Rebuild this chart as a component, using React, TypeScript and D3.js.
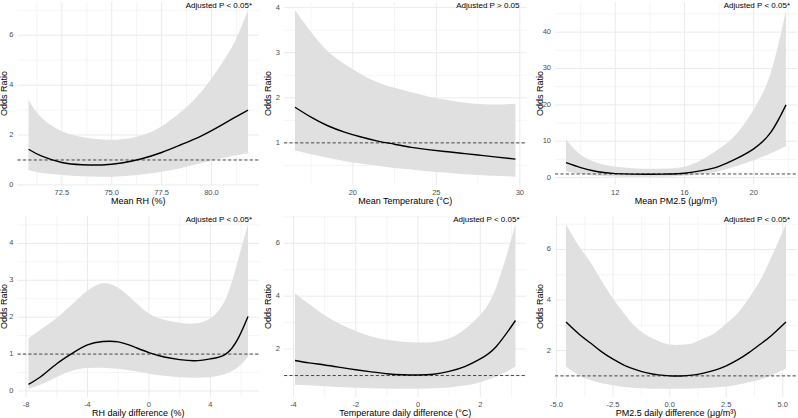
import * as d3 from 'd3'

const W = 798
const H = 418

// Mean RH (%)
const rhX = [70.83, 71.5, 72.5, 73.5, 74.5, 75.5, 76.5, 77.5, 78.5, 79.5, 80.5, 81.2, 81.83]
const rhOR = [1.43, 1.15, 0.9, 0.81, 0.8, 0.88, 1.05, 1.3, 1.62, 1.97, 2.4, 2.72, 3.0]
const rhLo = [0.6, 0.48, 0.4, 0.35, 0.33, 0.35, 0.42, 0.53, 0.68, 0.88, 1.07, 1.18, 1.27]
const rhHi = [3.4, 2.68, 2.15, 1.92, 1.82, 1.83, 1.98, 2.35, 2.95, 3.75, 4.85, 5.8, 7.0]

// Mean temperature (°C)
const tempX = [16.54, 17.5, 18.5, 19.5, 20.5, 21.5, 22.5, 23.5, 24.5, 25.5, 26.5, 27.5, 28.5, 29.74]
const tempOR = [1.79, 1.57, 1.38, 1.24, 1.13, 1.04, 0.97, 0.9, 0.85, 0.81, 0.77, 0.73, 0.69, 0.64]
const tempLo = [0.83, 0.75, 0.67, 0.6, 0.54, 0.49, 0.44, 0.41, 0.37, 0.34, 0.31, 0.29, 0.27, 0.25]
const tempHi = [3.94, 3.46, 3.03, 2.75, 2.52, 2.34, 2.22, 2.12, 2.03, 1.96, 1.9, 1.86, 1.85, 1.87]

// Mean PM2.5 (µg/m³)
const pmX = [9.15, 10, 11, 12, 13, 14, 15, 16, 17, 18, 19, 20, 21, 21.87]
const pmOR = [4.1, 2.75, 1.6, 1.1, 0.95, 0.92, 0.98, 1.2, 1.9, 3.1, 5.2, 7.9, 12.5, 20]
const pmLo = [1.65, 1.0, 0.5, 0.3, 0.25, 0.25, 0.3, 0.5, 0.9, 1.8, 3.2, 4.8, 6.7, 8.7]
const pmHi = [10.5, 6.3, 4.0, 3.0, 2.6, 2.4, 2.5, 3.0, 4.9, 7.9, 12.0, 18.7, 29, 46]

// RH daily difference (%)
const rhdX = [-7.84, -7, -6, -5, -4, -3, -2, -1, 0, 1, 2, 3, 4, 5, 5.8, 6.45]
const rhdOR = [0.18, 0.4, 0.74, 1.02, 1.25, 1.34, 1.33, 1.2, 1.04, 0.92, 0.85, 0.82, 0.87, 1.0, 1.42, 2.02]
const rhdLo = [0.06, 0.18, 0.38, 0.55, 0.62, 0.63, 0.6, 0.54, 0.47, 0.41, 0.37, 0.36, 0.38, 0.47, 0.65, 0.93]
const rhdHi = [1.43, 1.68, 1.98, 2.35, 2.72, 2.92, 2.8, 2.45, 2.1, 1.93, 1.85, 1.83, 1.97, 2.5, 3.55, 4.52]

// Temperature daily difference (°C)
const tdX = [-3.95, -3.5, -3, -2.5, -2, -1.5, -1, -0.5, 0, 0.5, 1, 1.5, 2, 2.5, 3.13]
const tdOR = [1.57, 1.48, 1.4, 1.31, 1.22, 1.14, 1.07, 1.03, 1.02, 1.05, 1.16, 1.34, 1.63, 2.08, 3.08]
const tdLo = [0.65, 0.63, 0.6, 0.57, 0.54, 0.52, 0.51, 0.5, 0.5, 0.52, 0.55, 0.62, 0.75, 0.95, 1.33]
const tdHi = [4.1, 3.7, 3.28, 2.95, 2.68, 2.48, 2.35, 2.28, 2.25, 2.27, 2.4, 2.75, 3.3, 4.3, 6.72]

// PM2.5 daily difference (µg/m³)
const pdX = [-4.58, -4, -3.5, -3, -2.5, -2, -1.5, -1, -0.5, 0, 0.5, 1, 1.5, 2, 2.5, 3, 3.5, 4, 4.5, 5.14]
const pdOR = [3.13, 2.65, 2.3, 1.95, 1.66, 1.42, 1.25, 1.12, 1.04, 1.0, 0.995, 1.03, 1.11, 1.23, 1.4, 1.63, 1.92, 2.25, 2.6, 3.13]
const pdLo = [1.36, 1.02, 0.84, 0.71, 0.63, 0.56, 0.52, 0.5, 0.49, 0.49, 0.49, 0.5, 0.52, 0.54, 0.58, 0.65, 0.75, 0.86, 1.02, 1.29]
const pdHi = [7.0, 6.12, 5.5, 4.75, 4.05, 3.45, 2.93, 2.6, 2.38, 2.24, 2.23, 2.29, 2.48, 2.7, 3.07, 3.48, 4.07, 4.78, 5.71, 7.0]

// plot-area extents for the 3 x 2 grid
const colX = [[17.5, 259], [284, 526.5], [555, 797]]
const rowY = [[2, 185], [216, 397]]
const yTitleX = [4.5, 268.5, 540.5]

const FONT = '"Liberation Sans", Arial, Helvetica, sans-serif'
const GRID = '#EBEBEB'
const RIBBON = '#E0E0E0'

interface Panel {
  xTitle: string
  note: string
  x: number[]
  or: number[]
  lo: number[]
  hi: number[]
  xTicks: number[]
  yTicks: number[]
  xFmt: (v: number) => string
  col: number
  row: number
}

const int = (v: number) => String(v)
const one = (v: number) => v.toFixed(1)

const panels: Panel[] = [
  { xTitle: 'Mean RH (%)', note: 'Adjusted P < 0.05*', x: rhX, or: rhOR, lo: rhLo, hi: rhHi,
    xTicks: [72.5, 75, 77.5, 80], yTicks: [0, 2, 4, 6], xFmt: one, col: 0, row: 0 },
  { xTitle: 'Mean Temperature (°C)', note: 'Adjusted P > 0.05', x: tempX, or: tempOR, lo: tempLo, hi: tempHi,
    xTicks: [20, 25, 30], yTicks: [1, 2, 3, 4], xFmt: int, col: 1, row: 0 },
  { xTitle: 'Mean PM2.5 (μg/m³)', note: 'Adjusted P < 0.05*', x: pmX, or: pmOR, lo: pmLo, hi: pmHi,
    xTicks: [12, 16, 20], yTicks: [0, 10, 20, 30, 40], xFmt: int, col: 2, row: 0 },
  { xTitle: 'RH daily difference (%)', note: 'Adjusted P < 0.05*', x: rhdX, or: rhdOR, lo: rhdLo, hi: rhdHi,
    xTicks: [-8, -4, 0, 4], yTicks: [0, 1, 2, 3, 4], xFmt: int, col: 0, row: 1 },
  { xTitle: 'Temperature daily difference (°C)', note: 'Adjusted P < 0.05*', x: tdX, or: tdOR, lo: tdLo, hi: tdHi,
    xTicks: [-4, -2, 0, 2], yTicks: [2, 4, 6], xFmt: int, col: 1, row: 1 },
  { xTitle: 'PM2.5 daily difference (μg/m³)', note: 'Adjusted P < 0.05*', x: pdX, or: pdOR, lo: pdLo, hi: pdHi,
    xTicks: [-5, -2.5, 0, 2.5, 5], yTicks: [2, 4, 6], xFmt: one, col: 2, row: 1 },
]

// ggplot-style 5% padding on a continuous scale
function expand(lo: number, hi: number): [number, number] {
  const pad = (hi - lo) * 0.05
  return [lo - pad, hi + pad]
}

// minor breaks sit halfway between majors, extended one step past each end
function minorBreaks(major: number[], dom: [number, number]) {
  const step = major[1] - major[0]
  const out: number[] = []
  for (let i = -1; i < major.length; i++) {
    const v = major[0] + step * (i + 0.5)
    if (v >= dom[0] && v <= dom[1]) out.push(v)
  }
  return out
}

function PanelView({ p }: { p: Panel }) {
  const [x0, x1] = colX[p.col]
  const [y0, y1] = rowY[p.row]
  const xDom = expand(d3.min(p.x)!, d3.max(p.x)!)
  const yDom = expand(Math.min(d3.min(p.lo)!, 1), Math.max(d3.max(p.hi)!, 1))
  const x = d3.scaleLinear().domain(xDom).range([x0, x1])
  const y = d3.scaleLinear().domain(yDom).range([y1, y0])

  const rows = p.x.map((v, i) => ({ x: v, or: p.or[i], lo: p.lo[i], hi: p.hi[i] }))
  type Row = (typeof rows)[number]
  const area = d3.area<Row>().x(d => x(d.x)).y0(d => y(d.lo)).y1(d => y(d.hi)).curve(d3.curveNatural)
  const line = d3.line<Row>().x(d => x(d.x)).y(d => y(d.or)).curve(d3.curveNatural)

  const eps = 1e-9
  const xMajor = p.xTicks.filter(t => t >= xDom[0] - eps && t <= xDom[1] + eps)
  const yMajor = p.yTicks.filter(t => t >= yDom[0] - 0.02 && t <= yDom[1] + eps)
  const xMinor = minorBreaks(p.xTicks, xDom)
  const yMinor = minorBreaks(p.yTicks, yDom)

  return (
    <g>
      {xMinor.map(t => (
        <line key={'xm' + t} x1={x(t)} x2={x(t)} y1={y0} y2={y1} stroke={GRID} strokeWidth={0.5} />
      ))}
      {yMinor.map(t => (
        <line key={'ym' + t} x1={x0} x2={x1} y1={y(t)} y2={y(t)} stroke={GRID} strokeWidth={0.5} />
      ))}
      {xMajor.map(t => (
        <line key={'xM' + t} x1={x(t)} x2={x(t)} y1={y0} y2={y1} stroke={GRID} strokeWidth={1} />
      ))}
      {yMajor.map(t => (
        <line key={'yM' + t} x1={x0} x2={x1} y1={y(t)} y2={y(t)} stroke={GRID} strokeWidth={1} />
      ))}

      <path d={area(rows)!} fill={RIBBON} />
      <line x1={x0} x2={x1} y1={y(1)} y2={y(1)} stroke="#333" strokeWidth={0.9} strokeDasharray="3.2,2.2" />
      <path d={line(rows)!} fill="none" stroke="#000" strokeWidth={1.4} />

      {xMajor.map(t => (
        <text key={'xl' + t} x={x(t)} y={y1 + 7.8} textAnchor="middle" dominantBaseline="middle"
          fontSize={7.5} fill="#4D4D4D">{p.xFmt(t)}</text>
      ))}
      {yMajor.map(t => (
        <text key={'yl' + t} x={x0 - 4} y={y(t)} textAnchor="end" dominantBaseline="middle"
          fontSize={7.5} fill="#4D4D4D">{t}</text>
      ))}

      <text x={(x0 + x1) / 2} y={y1 + 16.8} textAnchor="middle" dominantBaseline="middle" fontSize={9} fill="#000">
        {p.xTitle}
      </text>
      <text transform={`translate(${yTitleX[p.col]},${(y0 + y1) / 2}) rotate(-90)`} textAnchor="middle"
        dominantBaseline="middle" fontSize={9} fill="#000">Odds Ratio</text>
      <text x={x1 - 7} y={y0 + 3.5} textAnchor="end" dominantBaseline="middle" fontSize={8} fill="#000">
        {p.note}
      </text>
    </g>
  )
}

export default function App() {
  return (
    <svg width={W} height={H} viewBox={`0 0 ${W} ${H}`}
      style={{ position: 'absolute', left: 0, top: 0, background: '#fff', fontFamily: FONT }}>
      <rect width={W} height={H} fill="#fff" />
      {panels.map((p, i) => <PanelView key={i} p={p} />)}
    </svg>
  )
}
